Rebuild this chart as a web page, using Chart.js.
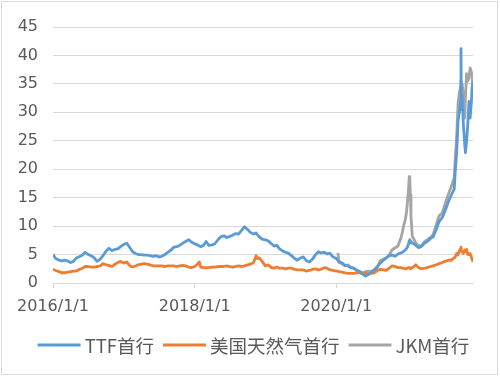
<!DOCTYPE html>
<html><head><meta charset="utf-8">
<script src="https://cdn.jsdelivr.net/npm/chart.js@4.4.0/dist/chart.umd.min.js"></script>
<style>
html,body{margin:0;padding:0;background:#fff;}
#wrap{position:absolute;left:1px;top:1px;width:495px;height:372px;border:1px solid #d9d9d9;}
</style></head><body>
<div id="wrap"><canvas id="c"></canvas></div>
<script>
// Dates (shared by series)
const dates = [
'2016-01-01','2016-01-15','2016-02-01','2016-02-15','2016-03-01','2016-03-15','2016-04-01','2016-04-15','2016-05-01','2016-05-15','2016-06-01','2016-06-15',
'2016-07-01','2016-07-15','2016-08-01','2016-08-15','2016-09-01','2016-09-15','2016-10-01','2016-10-15','2016-11-01','2016-11-15','2016-12-01','2016-12-15',
'2017-01-01','2017-01-15','2017-02-01','2017-02-15','2017-03-01','2017-03-15','2017-04-01','2017-04-15','2017-05-01','2017-05-15','2017-06-01','2017-06-15',
'2017-07-01','2017-07-15','2017-08-01','2017-08-15','2017-09-01','2017-09-15','2017-10-01','2017-10-15','2017-11-01','2017-11-15','2017-12-01','2017-12-15',
'2018-01-01','2018-01-15','2018-01-25','2018-02-01','2018-02-15','2018-03-01','2018-03-15','2018-04-01','2018-04-15','2018-05-01','2018-05-15','2018-06-01','2018-06-15',
'2018-07-01','2018-07-15','2018-08-01','2018-08-15','2018-09-01','2018-09-15','2018-10-01','2018-10-15','2018-11-01','2018-11-14','2018-11-20','2018-12-01','2018-12-15',
'2019-01-01','2019-01-15','2019-02-01','2019-02-15','2019-03-01','2019-03-15','2019-04-01','2019-04-15','2019-05-01','2019-05-15','2019-06-01','2019-06-15',
'2019-07-01','2019-07-15','2019-08-01','2019-08-15','2019-09-01','2019-09-15','2019-10-01','2019-10-15','2019-11-01','2019-11-15','2019-12-01','2019-12-15',
'2020-01-01','2020-01-10','2020-01-15','2020-02-01','2020-02-15','2020-03-01','2020-03-15','2020-04-01','2020-04-15','2020-05-01','2020-05-15','2020-06-01','2020-06-15',
'2020-07-01','2020-07-15','2020-08-01','2020-08-15','2020-09-01','2020-09-15','2020-10-01','2020-10-15','2020-11-01','2020-11-15','2020-12-01','2020-12-08','2020-12-15','2020-12-22','2020-12-28',
'2021-01-01','2021-01-08','2021-01-12','2021-01-15','2021-01-18','2021-01-21','2021-01-28','2021-02-01','2021-02-15','2021-03-01','2021-03-15','2021-04-01','2021-04-15',
'2021-05-01','2021-05-15','2021-06-01','2021-06-15','2021-07-01','2021-07-15','2021-08-01','2021-08-15','2021-09-01','2021-09-07','2021-09-14','2021-09-21','2021-09-28',
'2021-10-04','2021-10-06','2021-10-08','2021-10-12','2021-10-18','2021-10-25','2021-10-29','2021-11-04','2021-11-10','2021-11-16','2021-11-22','2021-11-29','2021-12-02','2021-12-07'
];
// TTF front month
const ttfValues = [
5.0,4.3,4.0,3.9,4.0,3.9,3.6,3.8,4.4,4.6,4.9,5.4,5.0,4.8,4.4,3.8,4.2,4.8,5.6,6.1,5.7,5.9,6.0,6.4,
6.8,7.0,6.2,5.5,5.2,5.0,5.0,4.9,4.9,4.8,4.7,4.8,4.6,4.7,5.0,5.4,5.8,6.3,6.4,6.6,7.0,7.3,7.6,7.2,
6.9,6.7,6.5,6.4,6.6,7.3,6.6,6.7,6.9,7.6,8.1,8.3,8.0,8.2,8.4,8.7,8.6,9.3,9.9,9.4,8.9,8.6,8.8,8.5,8.1,7.7,
7.6,7.4,6.9,6.5,6.6,6.0,5.6,5.4,5.2,4.8,4.3,4.0,4.4,4.6,3.9,3.7,4.2,4.9,5.5,5.3,5.4,5.1,5.2,4.6,
4.3,4.0,3.8,3.5,3.1,3.0,2.7,2.6,2.3,2.0,1.6,1.2,1.5,1.9,2.3,2.9,3.5,4.0,4.4,4.8,4.9,4.7,5.1,5.3,5.4,5.6,5.8,6.0,
6.2,6.8,7.4,7.6,7.3,7.1,7.0,7.0,6.6,6.2,6.4,7.0,7.3,7.8,8.1,9.5,10.8,11.5,12.6,14.2,15.3,16.5,19.9,23.0,28.5,30.0,
32.0,41.2,30.5,33.0,28.0,24.5,22.9,25.0,27.8,31.9,29.0,32.0,34.3,35.4
];
// US natural gas (Henry Hub) front month
const hhValues = [
2.4,2.2,2.0,1.8,1.8,1.9,2.0,2.1,2.1,2.4,2.6,2.9,2.9,2.8,2.8,2.9,3.0,3.4,3.2,3.1,2.9,3.3,3.6,3.8,
3.5,3.7,3.0,2.8,3.0,3.2,3.3,3.4,3.3,3.2,3.0,3.0,3.0,3.0,2.9,3.0,3.0,3.0,2.9,3.0,3.1,3.0,2.8,2.7,
2.9,3.3,3.7,2.8,2.7,2.7,2.7,2.8,2.8,2.9,2.9,2.9,3.0,2.9,2.8,2.9,3.0,2.9,3.0,3.2,3.3,3.6,4.8,4.3,4.4,3.8,
3.0,3.2,2.7,2.6,2.8,2.6,2.6,2.5,2.6,2.6,2.4,2.3,2.3,2.3,2.1,2.2,2.4,2.5,2.3,2.4,2.7,2.6,2.3,2.2,
2.1,2.1,2.0,1.9,1.8,1.7,1.7,1.7,1.8,1.8,1.7,1.7,1.6,1.7,1.8,2.2,2.4,2.3,2.2,2.6,3.0,2.9,2.7,2.7,2.6,2.6,2.5,2.5,
2.6,2.7,2.7,2.6,2.5,2.6,2.7,2.8,3.2,2.7,2.5,2.6,2.7,2.9,3.0,3.2,3.4,3.6,3.8,4.0,4.0,4.4,4.6,5.2,5.0,5.7,
6.0,6.3,5.6,5.5,5.2,5.8,5.5,5.9,5.0,5.0,5.2,4.5,4.2,3.7
];
// JKM front month (starts 2020-01-10)
const jkmStart = '2020-01-10';
const jkmValues = [
5.3,3.6,3.4,3.0,3.2,2.8,2.6,2.2,2.0,1.8,2.0,2.1,2.0,2.3,2.8,3.9,4.2,4.4,4.9,5.8,6.2,6.5,8.0,9.0,10.2,11.0,12.2,
13.5,16.3,18.7,18.2,15.5,11.7,8.1,8.0,7.0,6.6,6.5,7.3,7.6,8.0,8.5,10.3,11.8,12.3,13.8,15.5,16.8,18.5,22.2,26.0,31.6,33.5,
34.5,35.5,34.0,35.0,33.0,29.0,32.7,36.8,35.5,36.0,37.8,37.0,36.5,33.6
];
const seriesNames = ['TTF首行','美国天然气首行','JKM首行'];
const seriesColors = ['#5B9BD5','#ED7D31','#A5A5A5'];
const xTickLabels = ['2016/1/1','2018/1/1','2020/1/1'];
const yMin = 0, yMax = 45, yStep = 5;

const origin = Date.UTC(2016,0,1);
const toDay = s => { const p = s.split(/[-\/]/).map(Number); return (Date.UTC(p[0],p[1]-1,p[2]) - origin)/86400000; };
const pts = (ds, vs) => vs.map((v,i)=>({x:toDay(ds[i]), y:v}));
const jkmDates = dates.slice(dates.indexOf(jkmStart));
const xMax = toDay(dates[dates.length-1]);
const FONT = "'DejaVu Sans','Noto Sans CJK SC',sans-serif";
const LFONT = "'Noto Sans CJK SC',sans-serif";
const TXT = '#595959';

const mk = (i, ds, vs) => ({label:seriesNames[i], data:pts(ds,vs), borderColor:seriesColors[i], backgroundColor:seriesColors[i],
  borderWidth:2.8, pointRadius:0, tension:0, borderJoinStyle:'round'});

// Legend drawn below the x axis: line sample, short gap, label
const legendPlugin = {
  id:'lineLegend',
  afterDraw(chart){
    const ctx = chart.ctx, items = chart.data.datasets;
    const lineW = 43, gap = 4, itemGap = 9;
    ctx.save();
    ctx.font = "18.5px " + LFONT;
    const widths = items.map(d => ctx.measureText(d.label).width);
    const total = widths.reduce((a,w)=>a+lineW+gap+w,0) + itemGap*(items.length-1);
    let x = chart.width/2 + 4 - total/2;
    const y = chart.scales.x.bottom + 19;
    ctx.textBaseline = 'middle'; ctx.textAlign = 'left';
    items.forEach((d,i) => {
      ctx.strokeStyle = d.borderColor; ctx.lineWidth = 2.8;
      ctx.beginPath(); ctx.moveTo(x, y); ctx.lineTo(x+lineW, y); ctx.stroke();
      ctx.fillStyle = TXT; ctx.fillText(d.label, x+lineW+gap, y+1);
      x += lineW + gap + widths[i] + itemGap;
    });
    ctx.restore();
  }
};

new Chart(document.getElementById('c'), {
  type:'line',
  data:{datasets:[mk(0,dates,ttfValues), mk(1,dates,hhValues), mk(2,jkmDates,jkmValues)]},
  plugins:[legendPlugin],
  options:{
    responsive:true, maintainAspectRatio:false, animation:false, devicePixelRatio:1,
    layout:{padding:{left:0,right:24,top:25,bottom:48}},
    plugins:{ legend:{display:false}, tooltip:{enabled:false} },
    scales:{
      x:{type:'linear', min:0, max:xMax,
        afterBuildTicks: s => { s.ticks = xTickLabels.map(l => ({value:toDay(l)})); },
        afterFit: s => { s.height = 43; },
        ticks:{autoSkip:false, maxRotation:0, padding:9, align:'center', color:TXT, font:{family:FONT,size:16},
          callback: v => { const i = xTickLabels.findIndex(l => toDay(l) === v); return i >= 0 ? xTickLabels[i] : ''; }},
        grid:{drawOnChartArea:false, drawTicks:true, tickLength:5, color:'#d9d9d9'},
        border:{display:true, color:'#d9d9d9'}
      },
      y:{min:yMin, max:yMax,
        afterFit: s => { s.width = 51; },
        ticks:{stepSize:yStep, padding:15, color:TXT, font:{family:FONT,size:16}},
        grid:{color:'#d9d9d9', drawTicks:false},
        border:{display:false}
      }
    }
  }
});
</script>
</body></html>
